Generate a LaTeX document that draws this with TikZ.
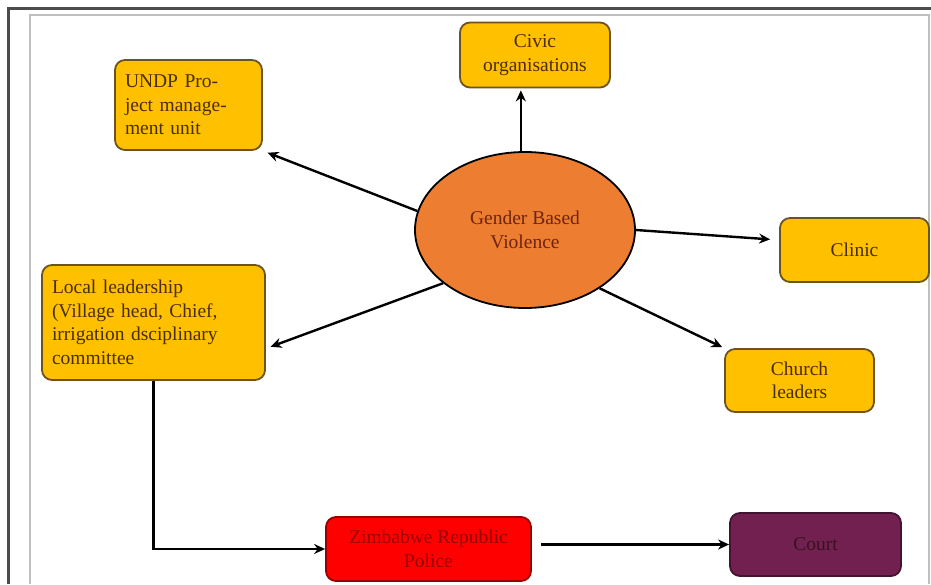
\documentclass[tikz,border=0pt]{standalone}
\usepackage{fontspec}
\setmainfont{Liberation Serif}
\usetikzlibrary{arrows.meta, shapes.geometric}
\definecolor{boxfill}{HTML}{FFC000}
\definecolor{boxline}{HTML}{6B5420}
\definecolor{boxtext}{HTML}{4A2E00}
\definecolor{hubfill}{HTML}{ED7D31}
\definecolor{hubtext}{HTML}{6E2410}
\definecolor{policefill}{HTML}{FF0000}
\definecolor{policetext}{HTML}{9A0000}
\definecolor{courtfill}{HTML}{722050}
\definecolor{courttext}{HTML}{3A1022}
\tikzset{
  yellowbox/.style={draw=boxline, line width=1.8pt, rounded corners=10pt, fill=boxfill,
    text=boxtext, font=\fontsize{19.5}{23.5}\selectfont, inner xsep=10pt},
  hub/.style={ellipse, draw=black, line width=1.8pt, fill=hubfill, text=hubtext, align=center,
    font=\fontsize{19.5}{23.5}\selectfont, minimum width=220pt, minimum height=156pt},
  arr/.style={line width=2.4pt, -{Stealth[length=11pt,width=10pt]}}
}
\begin{document}
\begin{tikzpicture}[x=1pt, y=-1pt]
\useasboundingbox (0,0) rectangle (931,584);
% frame
\draw[line width=3pt, black!70] (8,584) -- (8,8.5) -- (931,8.5);
\draw[line width=1.5pt, black!25] (30,584) -- (30,15) -- (929,15) -- (929,584);
% nodes
\node[hub] (gbv) at (525,230) {Gender Based\\Violence};
\node[yellowbox, align=center, minimum width=150pt, minimum height=65pt] (civic) at (535,55) {Civic\\organisations};
\node[yellowbox, align=left, text width=127pt, minimum height=90pt] (undp) at (188.5,105) {UNDP Pro-\\ject manage-\\ment unit};
\node[yellowbox, minimum width=149pt, minimum height=64pt] (clinic) at (854.5,250) {Clinic};
\node[yellowbox, align=center, minimum width=149pt, minimum height=63pt] (church) at (799.5,380.5) {Church\\leaders};
\node[yellowbox, align=left, text width=203pt, minimum height=115pt] (local) at (153.5,322.5) {Local leadership\\(Village head, Chief,\\irrigation dsciplinary\\committee};
\node[yellowbox, fill=policefill, draw=policefill!60!black, text=policetext, align=center,
  minimum width=205pt, minimum height=64pt] (police) at (428.5,549) {Zimbabwe Republic\\Police};
\node[yellowbox, fill=courtfill, draw=courtfill!60!black, text=courttext,
  minimum width=171pt, minimum height=63pt] (court) at (815.5,544.5) {Court};
% connectors
\draw[arr, shorten >=5pt] (gbv.170) -- (undp.south east);
\draw[arr, shorten >=2pt] (gbv.93) -- (gbv.93 |- civic.south);
\draw[arr, shorten >=9pt] (gbv.east) -- ([yshift=10pt]clinic.west);
\draw[arr, shorten >=2pt] (gbv.-38) -- (church.north west);
\draw[arr, shorten >=5pt] (gbv.213) -- ([yshift=-26pt]local.east);
\draw[arr] (local.south) |- (police.west);
\draw[arr, shorten <=9pt] (police.east |- court.west) -- (court.west);
\end{tikzpicture}
\end{document}
